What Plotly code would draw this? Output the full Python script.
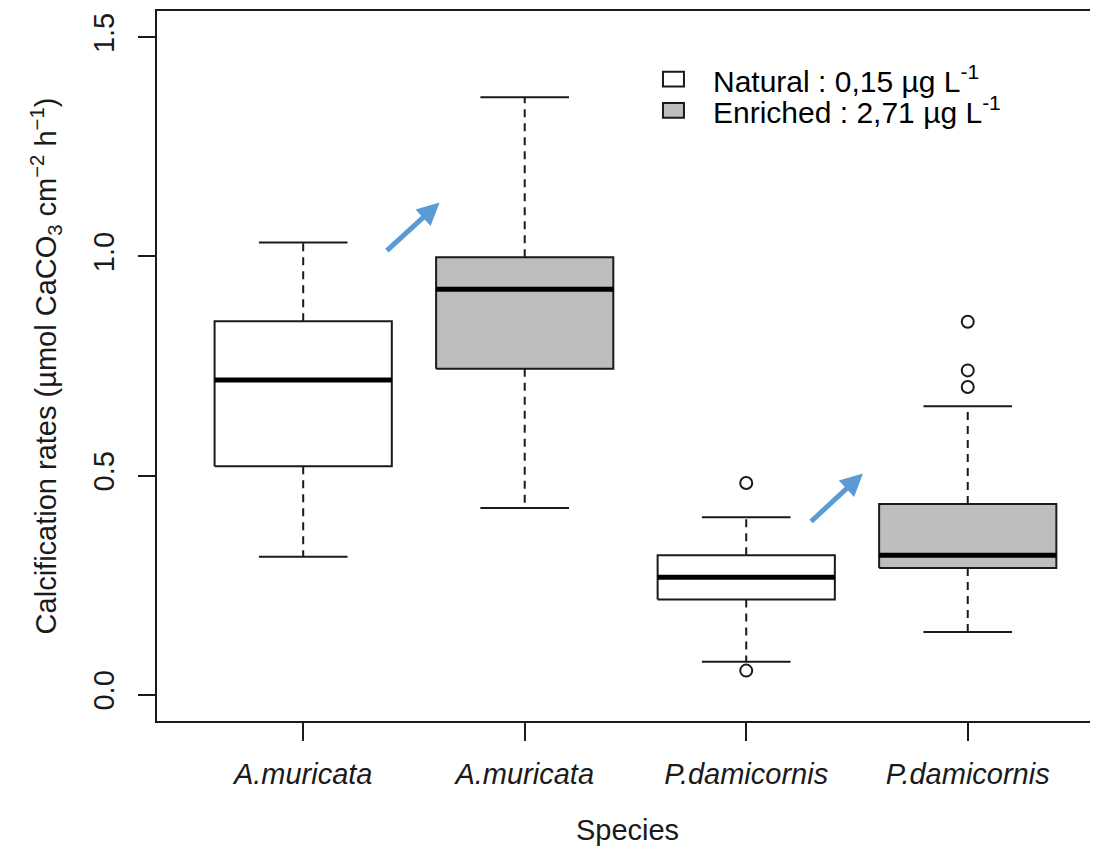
import plotly.graph_objects as go

# ---- data ----
species_labels = ["A.muricata", "A.muricata", "P.damicornis", "P.damicornis"]
treatments = ["Natural", "Enriched", "Natural", "Enriched"]
positions = [1, 2, 3, 4]
lower_whisker = [0.315, 0.426, 0.075, 0.143]
q1 = [0.521, 0.744, 0.217, 0.289]
median = [0.718, 0.925, 0.268, 0.318]
q3 = [0.852, 0.998, 0.318, 0.435]
upper_whisker = [1.032, 1.363, 0.405, 0.658]
outliers = [[], [], [0.055, 0.483], [0.702, 0.740, 0.851]]
y_tick_values = [0.0, 0.5, 1.0, 1.5]
y_tick_labels = ["0.0", "0.5", "1.0", "1.5"]
legend_treatments = ["Natural", "Enriched"]
legend_labels = ["Natural : 0,15 µg L<sup>-1</sup>", "Enriched : 2,71 µg L<sup>-1</sup>"]
# arrows: (tail x, tail y, head x, head y) in data units
arrows = [(1.371, 1.010, 1.616, 1.123), (3.286, 0.392, 3.527, 0.505)]

fill_colors = {"Natural": "#FFFFFF", "Enriched": "#BEBEBE"}
INK = "#1a1a1a"
FONT = "Liberation Sans, Arial, sans-serif"
HALF_BOX = 0.4
HALF_CAP = 0.2

fig = go.Figure()

for i, c in enumerate(positions):
    # whiskers (dashed)
    for a, b in ((q3[i], upper_whisker[i]), (q1[i], lower_whisker[i])):
        fig.add_trace(go.Scatter(x=[c, c], y=[a, b], mode="lines",
                                 line=dict(color=INK, width=2, dash="8px,6px"),
                                 showlegend=False, hoverinfo="skip"))
    # box
    fig.add_trace(go.Scatter(
        x=[c - HALF_BOX, c + HALF_BOX, c + HALF_BOX, c - HALF_BOX, c - HALF_BOX],
        y=[q1[i], q1[i], q3[i], q3[i], q1[i]],
        mode="lines", fill="toself", fillcolor=fill_colors[treatments[i]],
        line=dict(color=INK, width=2), showlegend=False, hoverinfo="skip"))
    # median
    fig.add_trace(go.Scatter(x=[c - HALF_BOX, c + HALF_BOX], y=[median[i], median[i]],
                             mode="lines", line=dict(color="#000000", width=5),
                             showlegend=False, hoverinfo="skip"))
    # caps
    for v in (upper_whisker[i], lower_whisker[i]):
        fig.add_trace(go.Scatter(x=[c - HALF_CAP, c + HALF_CAP], y=[v, v], mode="lines",
                                 line=dict(color=INK, width=2),
                                 showlegend=False, hoverinfo="skip"))
    # outliers
    if outliers[i]:
        fig.add_trace(go.Scatter(x=[c] * len(outliers[i]), y=outliers[i], mode="markers",
                                 marker=dict(symbol="circle-open", size=12, color=INK,
                                             line=dict(width=2, color=INK)),
                                 showlegend=False, hoverinfo="skip"))

# hand-placed legend (paper coordinates)
legend_rows_y = [0.904, 0.860]
for lab, t, ry in zip(legend_labels, legend_treatments, legend_rows_y):
    fig.add_shape(type="rect", xref="paper", yref="paper",
                  x0=0.5377, x1=0.560, y0=ry - 0.0105, y1=ry + 0.0105,
                  fillcolor=fill_colors[t], line=dict(color=INK, width=2))
    fig.add_annotation(x=0.5885, y=ry, xref="paper", yref="paper", text=lab,
                       showarrow=False, xanchor="left", yanchor="middle",
                       font=dict(size=30, color="#000000"))

for tx, ty, hx, hy in arrows:
    fig.add_annotation(x=hx, y=hy, ax=tx, ay=ty, xref="x", yref="y", axref="x", ayref="y",
                       text="", showarrow=True, arrowhead=2, arrowsize=0.9,
                       arrowwidth=5, arrowcolor="#5B9BD5", standoff=0)

# the page body adds an 8px offset, so the figure is sized to fit the window
fig.update_layout(
    width=1090, height=839,
    margin=dict(l=149, r=0, t=3, b=126),
    paper_bgcolor="white", plot_bgcolor="white",
    font=dict(family=FONT, size=29, color=INK),
    showlegend=False,
)
fig.update_xaxes(
    range=[0.34, 4.588], tickmode="array", tickvals=positions,
    ticktext=[f"<i>{s}</i>" for s in species_labels],
    ticks="outside", ticklen=18, tickwidth=2, tickcolor=INK,
    showline=True, linewidth=2, linecolor=INK, mirror=True,
    showgrid=False, zeroline=False, automargin=False,
    tickfont=dict(size=29, color=INK), ticklabelstandoff=8,
    title=dict(text="Species", font=dict(size=29, color=INK), standoff=31),
)
fig.update_yaxes(
    range=[-0.06, 1.56], tickmode="array", tickvals=y_tick_values, ticktext=y_tick_labels,
    tickangle=-90, ticks="outside", ticklen=17, tickwidth=2, tickcolor=INK,
    showline=True, linewidth=2, linecolor=INK, mirror=False,
    showgrid=False, zeroline=False, automargin=False,
    tickfont=dict(size=29, color=INK), ticklabelstandoff=12,
    title=dict(text="Calcification rates (µmol CaCO<sub>3</sub> cm<sup>−2</sup> h<sup>−1</sup>)",
               font=dict(size=29, color=INK), standoff=23),
)

fig.write_html("out.html")
